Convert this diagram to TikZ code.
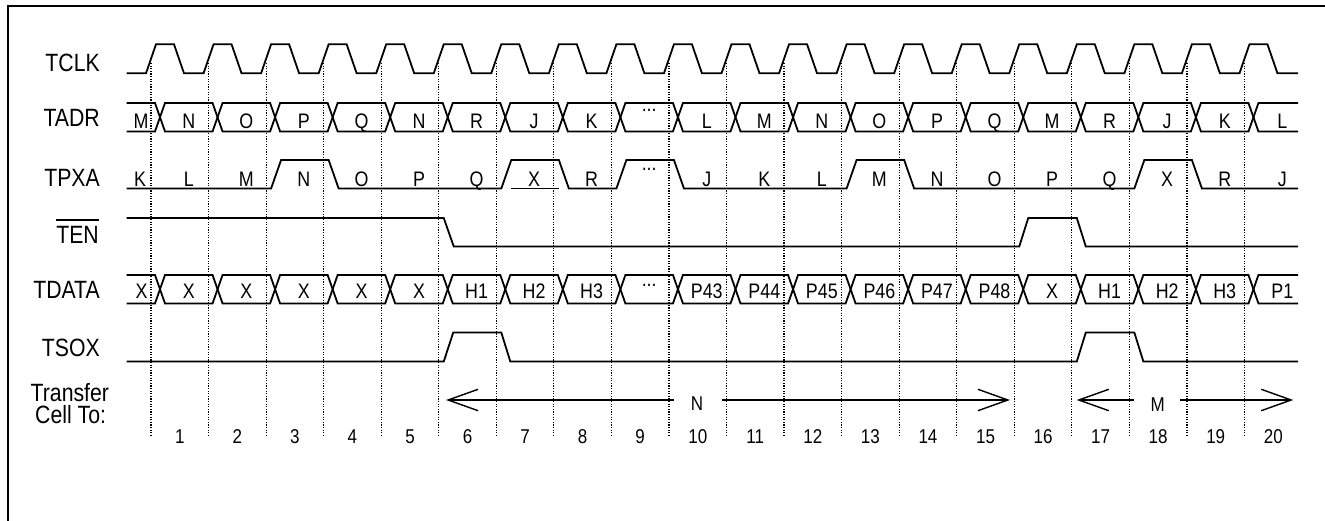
\documentclass[tikz,border=0pt]{standalone}
\usepackage{fontspec}
\setmainfont{Liberation Sans}[FakeStretch=0.85]
\usetikzlibrary{arrows.meta}
\pgfmathdeclarefunction{tx}{1}{\pgfmathparse{151+57.55*#1}}
\newcommand\mybus[2]{%
  \pgfmathsetmacro\mymid{(#1+#2)/2}%
  \draw[sig] ({tx(0)+9},\mymid) -- ({tx(0)+4},#1) -- (126.7,#1);
  \draw[sig] ({tx(0)+9},\mymid) -- ({tx(0)+4},#2) -- (126.7,#2);
  \foreach \k in {0,...,18}{
    \draw[sig] ({tx(\k)+9},\mymid) -- ({tx(\k)+14},#1) -- ({tx(\k+1)+4},#1) -- ({tx(\k+1)+9},\mymid)
      -- ({tx(\k+1)+4},#2) -- ({tx(\k)+14},#2) -- cycle;
  }
  \draw[sig] ({tx(19)+9},\mymid) -- ({tx(19)+14},#1) -- (1298,#1);
  \draw[sig] ({tx(19)+9},\mymid) -- ({tx(19)+14},#2) -- (1298,#2);
}
\begin{document}
\begin{tikzpicture}[x=1pt,y=-1pt,
  sig/.style={line width=1.8pt, line join=miter},
  gridline/.style={line width=1.2pt, dash pattern=on 1.2pt off 1.4pt},
  lab/.style={font=\fontsize{25}{25}\selectfont, inner sep=0pt, anchor=base east},
  val/.style={font=\fontsize{21}{21}\selectfont, inner sep=0pt, anchor=base},
  num/.style={font=\fontsize{20}{20}\selectfont, inner sep=0pt, anchor=base},
  arr/.style={line width=1.4pt, -{Straight Barb[length=30pt,width=21.4pt]}}]
\useasboundingbox (0,0) rectangle (1325,521);
\clip (0,0) rectangle (1325,521);
% frame
\draw[line width=2pt] (1340,6) -- (8.3,6) -- (8.3,540);
% grid
\foreach \k in {0,...,19} \draw[gridline] ({tx(\k)},63) -- ({tx(\k)},437);
% labels
\node[lab] (tclk) at (100,71.5) {TCLK};
\node[lab] (tadr) at (100,127) {TADR};
\node[lab] (tpxa) at (100,186.5) {TPXA};
\node[lab] (ten) at (99,243.5) {TEN};
\draw[line width=1.5pt] ([yshift=6pt]ten.north west) -- ([yshift=6pt]ten.north east);
\node[lab] (tdata) at (100,298.5) {TDATA};
\node[lab] (tsox) at (100,356.5) {TSOX};
\node[lab, anchor=base west, align=left, font=\fontsize{25}{21.5}\selectfont] (transfer) at (30.5,423) {Transfer\\\hspace*{4.5pt}Cell To:};
% TCLK
\draw[sig] (126.7,73.3) \foreach \k in {0,...,19} { -- ({tx(\k)-5},73.3) -- ({tx(\k)+5},44.3) -- ({tx(\k)+23},44.3) -- ({tx(\k)+33},73.3) } -- (1298,73.3);
% TADR
\mybus{103}{131.5}
\node[val] (adr0) at (141,128.3) {M};
\foreach \t [count=\s] in {N,O,P,Q,N,R,J,K,{},L,M,N,O,P,Q,M,R,J,K,L}
  \node[val] (adr\s) at ({tx(\s-1)+37.8},128.3) {\t};
\node[val] (adrdots) at ({tx(8)+37.8},112) {...};
% TPXA
\draw[sig] (126.7,188.5) -- ({tx(2)+5},188.5) -- ({tx(2)+15},160) -- ({tx(3)+5},160) -- ({tx(3)+15},188.5)
 -- ({tx(6)+5},188.5) -- ({tx(6)+15},160) -- ({tx(7)+5},160) -- ({tx(7)+15},188.5)
 -- ({tx(8)+5},188.5) -- ({tx(8)+15},160) -- ({tx(9)+5},160) -- ({tx(9)+15},188.5)
 -- ({tx(12)+5},188.5) -- ({tx(12)+15},160) -- ({tx(13)+5},160) -- ({tx(13)+15},188.5)
 -- ({tx(17)+5},188.5) -- ({tx(17)+15},160) -- ({tx(18)+5},160) -- ({tx(18)+15},188.5) -- (1298,188.5);
\draw[sig] ({tx(6)+15},188.5) -- ({tx(7)+5},188.5);
\node[val] (pxa0) at (140,186.7) {K};
\foreach \t [count=\s] in {L,M,N,O,P,Q,X,R,{},J,K,L,M,N,O,P,Q,X,R,J}
  \node[val] (pxa\s) at ({tx(\s-1)+37.8},186.7) {\t};
\node[val] (pxadots) at ({tx(8)+37.8},170.5) {...};
% TEN
\draw[sig] (126.7,218) -- ({tx(5)+5},218) -- ({tx(5)+15},246.5) -- ({tx(15)+5},246.5) -- ({tx(15)+14},218)
 -- ({tx(16)+5},218) -- ({tx(16)+14},246.5) -- (1298,246.5);
% TDATA
\mybus{275}{303.5}
\node[val] (dat0) at (141.5,298.3) {X};
\foreach \t [count=\s] in {X,X,X,X,X,H1,H2,H3,{},P43,P44,P45,P46,P47,P48,X,H1,H2,H3,P1}
  \node[val] (dat\s) at ({tx(\s-1)+37.8},298.3) {\t};
\node[val] (datdots) at ({tx(8)+37.8},287) {...};
% TSOX
\draw[sig] (126.7,361.5) -- ({tx(5)+5},361.5) -- ({tx(5)+14.5},332.5) -- ({tx(6)+5},332.5) -- ({tx(6)+14},361.5)
 -- ({tx(16)+5},361.5) -- ({tx(16)+14},332.5) -- ({tx(17)+5},332.5) -- ({tx(17)+14},361.5) -- (1298,361.5);
% transfer arrows
\node[num] (lblN) at (697,410.7) {N};
\coordinate (nA) at (674,400);
\coordinate (nAt) at (446,400);
\coordinate (nB) at (721.7,400);
\coordinate (nBt) at (1010,400);
\draw[arr] (nA) -- (nAt);
\draw[arr] (nB) -- (nBt);
\node[num] (lblM) at (1157.7,411) {M};
\coordinate (mA) at (1134.3,400);
\coordinate (mAt) at (1076.7,400);
\coordinate (mB) at (1180,400);
\coordinate (mBt) at (1293.3,400);
\draw[arr] (mA) -- (mAt);
\draw[arr] (mB) -- (mBt);
% cell numbers
\foreach \k in {1,...,20} \node[num] (num\k) at ({tx(\k-1)+28.8},443.5) {\k};
\end{tikzpicture}
\end{document}
